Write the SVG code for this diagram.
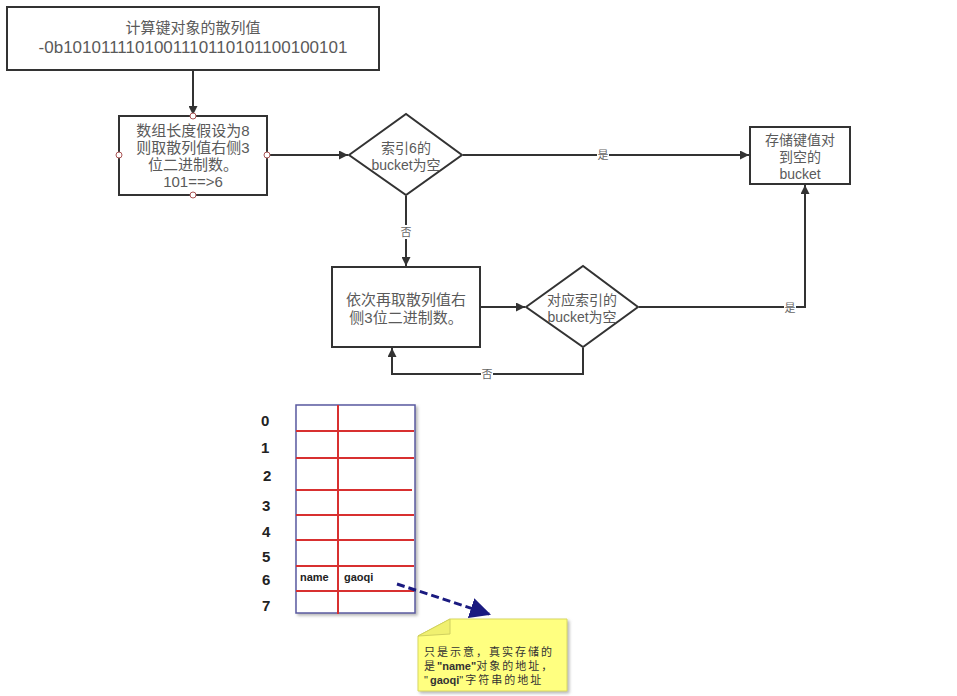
<svg xmlns="http://www.w3.org/2000/svg" width="957" height="696" viewBox="0 0 957 696">
<defs>
<style>
.box{fill:#fff;stroke:#333;stroke-width:2}
.t{font-family:"Liberation Sans","Noto Sans CJK SC",sans-serif;fill:#5a5a5a;text-anchor:middle}
.f15{font-size:15px}
.f14{font-size:14px}
.lbl{font-family:"Liberation Sans","Noto Sans CJK SC",sans-serif;font-size:11px;fill:#666;text-anchor:middle}
.ln{fill:none;stroke:#333;stroke-width:2}
.dot{fill:#fff;stroke:#a55;stroke-width:1}
.idx{font-family:"Liberation Sans",Arial,sans-serif;font-weight:bold;font-size:15px;fill:#222}
.red{stroke:#d83030;stroke-width:2}
.cell{font-family:"Liberation Sans",Arial,sans-serif;font-weight:bold;font-size:11px;fill:#222}
.note{font-family:"Liberation Sans","Noto Sans CJK SC",sans-serif;font-size:11px;fill:#333;letter-spacing:2px}
</style>
<marker id="ah" viewBox="0 0 10 10" refX="10" refY="5" markerWidth="9" markerHeight="9" markerUnits="userSpaceOnUse" orient="auto"><path d="M0,0 L10,5 L0,10 z" fill="#333"/></marker>
<marker id="ahb" viewBox="0 0 10 10" refX="9" refY="5" markerWidth="7" markerHeight="7" orient="auto"><path d="M0,0 L10,5 L0,10 z" fill="#1a1a80"/></marker>
<filter id="sh" x="-10%" y="-10%" width="130%" height="130%"><feDropShadow dx="2" dy="2" stdDeviation="1.5" flood-color="#888" flood-opacity="0.6"/></filter>
</defs>
<rect width="957" height="696" fill="#fff"/>

<g id="connectors">
<line class="ln" x1="193" y1="71" x2="193" y2="115" marker-end="url(#ah)"/>
<line class="ln" x1="268" y1="155" x2="348" y2="155" marker-end="url(#ah)"/>
<line class="ln" x1="463" y1="155" x2="749" y2="155" marker-end="url(#ah)"/>
<rect x="597" y="148" width="12" height="14" fill="#fff"/>
<text class="lbl" x="603" y="159">是</text>
<line class="ln" x1="406" y1="196" x2="406" y2="266" marker-end="url(#ah)"/>
<rect x="400" y="225" width="12" height="14" fill="#fff"/>
<text class="lbl" x="406" y="236">否</text>
<line class="ln" x1="481" y1="307" x2="525" y2="307" marker-end="url(#ah)"/>
<polyline class="ln" points="639,307 805,307 805,185" marker-end="url(#ah)"/>
<rect x="784" y="301" width="12" height="14" fill="#fff"/>
<text class="lbl" x="790" y="312">是</text>
<polyline class="ln" points="583,348 583,374 392,374 392,348" marker-end="url(#ah)"/>
<rect x="481" y="367" width="12" height="14" fill="#fff"/>
<text class="lbl" x="487" y="378">否</text>
</g>

<g id="n-hash">
<rect class="box" x="7" y="7" width="372" height="63"/>
<text class="t f15" x="193" y="33">计算键对象的散列值</text>
<text class="t" font-size="17" x="193" y="53">-0b1010111101001110110101100100101</text>
</g>

<g id="n-len">
<rect class="box" x="119" y="116" width="148" height="79"/>
<text class="t f15" x="193" y="136">数组长度假设为8</text>
<text class="t f15" x="193" y="153">则取散列值右侧3</text>
<text class="t f15" x="193" y="170">位二进制数。</text>
<text class="t f15" x="193" y="187">101==&gt;6</text>
<circle class="dot" cx="193" cy="116" r="3"/>
<circle class="dot" cx="119" cy="155" r="3"/>
<circle class="dot" cx="267" cy="155" r="3"/>
<circle class="dot" cx="193" cy="195" r="3"/>
</g>

<g id="n-dec1">
<polygon class="box" points="349,155 406,114 462,155 406,195"/>
<text class="t f14" x="406" y="153">索引6的</text>
<text class="t f14" x="406" y="170">bucket为空</text>
</g>

<g id="n-store">
<rect class="box" x="750" y="127" width="100" height="57"/>
<text class="t f14" x="800" y="145">存储键值对</text>
<text class="t f14" x="800" y="162">到空的</text>
<text class="t f14" x="800" y="179">bucket</text>
</g>

<g id="n-next">
<rect class="box" x="332" y="267" width="148" height="80"/>
<text class="t f15" x="406" y="305">依次再取散列值右</text>
<text class="t f15" x="406" y="323">侧3位二进制数。</text>
</g>

<g id="n-dec2">
<polygon class="box" points="526,307 583,266 638,307 583,347"/>
<text class="t f14" x="582" y="305">对应索引的</text>
<text class="t f14" x="582" y="322">bucket为空</text>
</g>

<g id="table">
<rect x="296" y="405" width="119" height="208" fill="#fff" stroke="#5a5aa0" stroke-width="1.5" filter="url(#sh)"/>
<line class="red" x1="296" y1="431" x2="414" y2="431"/>
<line class="red" x1="296" y1="458" x2="414" y2="458"/>
<line class="red" x1="296" y1="490" x2="412" y2="490"/>
<line class="red" x1="296" y1="515" x2="414" y2="515"/>
<line class="red" x1="296" y1="540" x2="414" y2="540"/>
<line class="red" x1="296" y1="566" x2="414" y2="566"/>
<line class="red" x1="296" y1="591" x2="414" y2="591"/>
<line class="red" x1="338" y1="405" x2="338" y2="614"/>
<text class="idx" x="261" y="426">0</text>
<text class="idx" x="261" y="453">1</text>
<text class="idx" x="263" y="481">2</text>
<text class="idx" x="262" y="511">3</text>
<text class="idx" x="262" y="537">4</text>
<text class="idx" x="262" y="562">5</text>
<text class="idx" x="262" y="585">6</text>
<text class="idx" x="262" y="611">7</text>
<text class="cell" x="300" y="581">name</text>
<text class="cell" x="344" y="581">gaoqi</text>
</g>

<g id="pointer">
<line x1="397" y1="584" x2="489" y2="614" stroke="#1a1a80" stroke-width="3" stroke-dasharray="8,4" marker-end="url(#ahb)"/>
</g>

<g id="note">
<polygon points="418,636 450,619 567,619 567,691 418,691" fill="#ffff80" stroke="#d8d860" stroke-width="1" filter="url(#sh)"/>
<polygon points="418,636 450,619 450,634" fill="#f0f070" stroke="#d0d060" stroke-width="1"/>
<text class="note" x="424" y="656">只是示意，真实存储的</text>
<text class="note" x="424" y="670">是<tspan font-weight="bold" letter-spacing="0">"name"</tspan>对象的地址，</text>
<text class="note" x="424" y="684">"<tspan font-weight="bold" letter-spacing="0">gaoqi</tspan>"字符串的地址</text>
</g>
</svg>
